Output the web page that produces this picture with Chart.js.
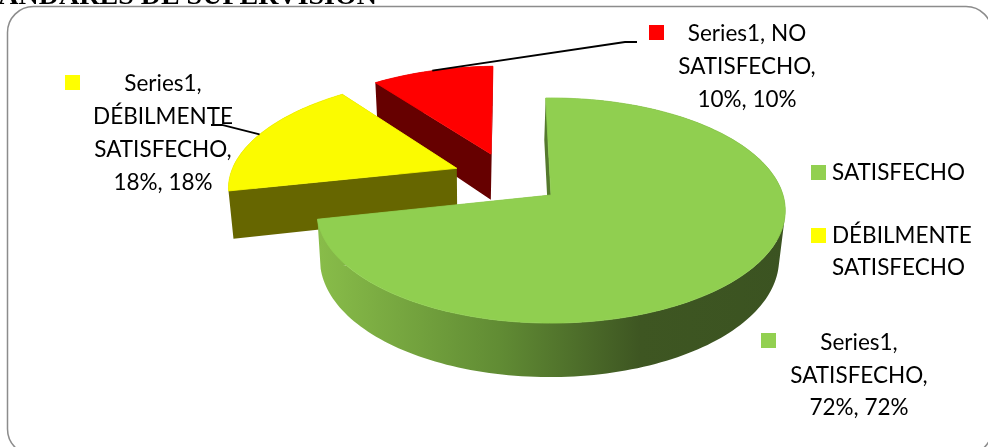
<!DOCTYPE html>
<html>
<head>
<meta charset="utf-8">
<style>
  html, body { margin: 0; padding: 0; background: #fff; overflow: hidden; }
  canvas { display: block; }
</style>
<script src="https://cdn.jsdelivr.net/npm/chart.js@4"></script>
</head>
<body>
<canvas id="pieChart" width="988" height="447"></canvas>
<script>
const categories = ['SATISFECHO', 'DÉBILMENTE SATISFECHO', 'NO SATISFECHO'];
const values = [72, 18, 10];
const legendLines = [['SATISFECHO'], ['DÉBILMENTE', 'SATISFECHO']];
const labelLines = [
    ['Series1,', 'SATISFECHO,', '72%, 72%'],
    ['Series1,', 'DÉBILMENTE', 'SATISFECHO,', '18%, 18%'],
    ['Series1, NO', 'SATISFECHO,', '10%, 10%']
];
const titleText = 'ESTÁNDARES DE SUPERVISIÓN';

const topColors = ['#90cf50', '#fbfb00', '#ff0000'];
const keyColors = ['#92d050', '#ffff00', '#ff0000'];
const wallColors = [null, '#666600', '#660000'];
const font = '22.5px Lato, "Noto Sans", sans-serif';

// how far each slice is pulled out of the pie, in pie radii
const explode = [[0, 0], [-0.42, -0.25], [-0.272, -0.39]];

// camera: tilted circle with perspective
const view = { cx: 551, a: 83.5, b: 195, c: -0.138, scale: 232 };

function project(u, v) {
    const w = 1 + view.c * v;
    return {
        x: view.cx + view.scale * u / w,
        y: (view.a * v + view.b) / w
    };
}

function projectBottom(u, v) {
    const p = project(u, v);
    return {
        x: view.cx + (p.x - view.cx) * 0.98 - 1.5,
        y: p.y + 48 + 6 * v
    };
}

function slicePoints(arc, i) {
    const props = arc.getProps(['startAngle', 'endAngle']);
    const pts = [{ u: explode[i][0], v: explode[i][1] }];
    const steps = Math.ceil((props.endAngle - props.startAngle) * 40);
    for (let s = 0; s <= steps; s++) {
        const t = props.startAngle + (props.endAngle - props.startAngle) * s / steps;
        pts.push({ u: explode[i][0] + Math.cos(t), v: explode[i][1] + Math.sin(t) });
    }
    return pts;
}

function greenWall(ctx) {
    const g = ctx.createLinearGradient(320, 0, 790, 0);
    g.addColorStop(0, '#88bc49');
    g.addColorStop(0.38, '#618c34');
    g.addColorStop(0.68, '#3e5622');
    g.addColorStop(1, '#3b5321');
    return g;
}

function addQuad(ctx, quad) {
    // same winding for every quad, so one nonzero fill covers them without seams
    let area = 0;
    quad.forEach(function (p, k) {
        const q = quad[(k + 1) % 4];
        area += p.x * q.y - q.x * p.y;
    });
    const pts = area < 0 ? quad.slice().reverse() : quad;
    ctx.moveTo(pts[0].x, pts[0].y);
    ctx.lineTo(pts[1].x, pts[1].y);
    ctx.lineTo(pts[2].x, pts[2].y);
    ctx.lineTo(pts[3].x, pts[3].y);
    ctx.closePath();
}

function drawSlice(ctx, arc, i) {
    const pts = slicePoints(arc, i);

    ctx.fillStyle = wallColors[i] || greenWall(ctx);
    ctx.beginPath();
    pts.forEach(function (p, k) {
        const q = pts[(k + 1) % pts.length];
        addQuad(ctx, [
            project(p.u, p.v),
            project(q.u, q.v),
            projectBottom(q.u, q.v),
            projectBottom(p.u, p.v)
        ]);
    });
    ctx.fill();

    ctx.fillStyle = topColors[i];
    ctx.strokeStyle = topColors[i];
    ctx.lineWidth = 0.8;
    ctx.beginPath();
    pts.forEach(function (pt, k) {
        const p = project(pt.u, pt.v);
        if (k === 0) ctx.moveTo(p.x, p.y); else ctx.lineTo(p.x, p.y);
    });
    ctx.closePath();
    ctx.fill();
    ctx.stroke();
}

function arcMiddle(arc, i) {
    const props = arc.getProps(['startAngle', 'endAngle']);
    const t = (props.startAngle + props.endAngle) / 2;
    return project(explode[i][0] + Math.cos(t), explode[i][1] + Math.sin(t));
}

function drawLeader(ctx, from, elbow, end) {
    ctx.strokeStyle = '#000';
    ctx.lineWidth = 1.8;
    ctx.beginPath();
    ctx.moveTo(from.x, from.y);
    ctx.lineTo(elbow.x, elbow.y);
    ctx.lineTo(end.x, end.y);
    ctx.stroke();
}

function drawKey(ctx, x, y, color) {
    ctx.fillStyle = color;
    ctx.fillRect(x, y, 15, 15);
}

function drawCentered(ctx, lines, x, y, step) {
    ctx.textAlign = 'center';
    lines.forEach(function (line, k) {
        ctx.fillText(line, x, y + k * step);
    });
}

const pie3d = {
    id: 'pie3d',
    beforeDatasetsDraw: function (chart) {
        const ctx = chart.ctx;
        const arcs = chart.getDatasetMeta(0).data;
        ctx.save();

        // heading cut off by the top of the picture, then the chart frame
        ctx.fillStyle = '#000';
        ctx.font = 'bold 28px "Liberation Serif", serif';
        ctx.textAlign = 'right';
        ctx.textBaseline = 'alphabetic';
        ctx.fillText(titleText, 377, 4);

        ctx.strokeStyle = '#8c8c8c';
        ctx.lineWidth = 1.5;
        ctx.beginPath();
        ctx.roundRect(7.5, 6.5, 984.5, 448.5, 26);
        ctx.stroke();

        // back to front: red, yellow, green
        for (let i = arcs.length - 1; i >= 0; i--) {
            drawSlice(ctx, arcs[i], i);
        }

        drawLeader(ctx, arcMiddle(arcs[1], 1), { x: 222, y: 125 }, { x: 211, y: 125 });
        drawLeader(ctx, arcMiddle(arcs[2], 2), { x: 625, y: 42 }, { x: 637, y: 42 });

        ctx.font = font;
        drawKey(ctx, 649, 25, keyColors[2]);
        drawKey(ctx, 65, 75, keyColors[1]);
        drawKey(ctx, 761, 333, keyColors[0]);
        ctx.fillStyle = '#000';
        drawCentered(ctx, labelLines[2], 747, 41, 33);
        drawCentered(ctx, labelLines[1], 163, 91, 33);
        drawCentered(ctx, labelLines[0], 859, 350, 32.5);

        drawKey(ctx, 811, 165, keyColors[0]);
        drawKey(ctx, 811, 228, keyColors[1]);
        ctx.fillStyle = '#000';
        ctx.textAlign = 'left';
        ctx.fillText(legendLines[0][0], 832, 180);
        ctx.fillText(legendLines[1][0], 832, 243);
        ctx.fillText(legendLines[1][1], 832, 275);

        ctx.restore();
        return false;
    }
};

new Chart(document.getElementById('pieChart'), {
    type: 'pie',
    data: {
        labels: categories,
        datasets: [
            {
                label: 'Series1',
                data: values,
                backgroundColor: topColors,
                borderWidth: 0
            }
        ]
    },
    options: {
        responsive: false,
        animation: false,
        rotation: -1.5,
        plugins: {
            legend: { display: false },
            tooltip: { enabled: false }
        }
    },
    plugins: [pie3d]
});
</script>
</body>
</html>
